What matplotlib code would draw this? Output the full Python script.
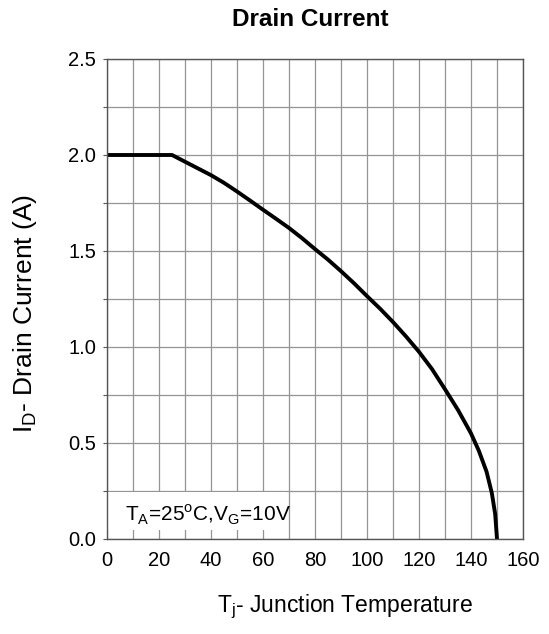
import matplotlib
matplotlib.use("Agg")
import matplotlib.pyplot as plt
from matplotlib.patches import Rectangle
import numpy as np

# Junction temperature (deg C) vs drain current (A)
temp_c = [0, 25, 30, 35, 40, 45, 50, 55, 60, 65, 70, 75, 80, 85, 90, 95, 100, 105,
          110, 115, 120, 125, 130, 135, 140, 143, 146, 148, 149.3, 150]
drain_a = [2.0, 2.0, 1.965, 1.93, 1.895, 1.855, 1.81, 1.763, 1.715, 1.668, 1.62, 1.567,
           1.51, 1.455, 1.395, 1.332, 1.265, 1.2, 1.13, 1.055, 0.975, 0.885, 0.78, 0.672,
           0.55, 0.46, 0.35, 0.24, 0.13, 0.0]

x_ticks = [0, 20, 40, 60, 80, 100, 120, 140, 160]
y_ticks = [0.0, 0.5, 1.0, 1.5, 2.0, 2.5]

plt.rcParams['font.family'] = ['Liberation Sans', 'DejaVu Sans']
plt.rcParams['mathtext.fontset'] = 'custom'
plt.rcParams['mathtext.rm'] = 'Liberation Sans'

W, H = 549, 634
fig = plt.figure(figsize=(W / 100, H / 100), dpi=100)
# plot box: x 107..523 px, y 59..539 px
ax = fig.add_axes([107 / W, 1 - 539 / H, 416 / W, 480 / H])

ax.plot(temp_c, drain_a, color='black', linewidth=2.8, solid_joinstyle='round', zorder=4)

ax.set_xlim(0, 160)
ax.set_ylim(0, 2.5)
ax.set_xticks(x_ticks)
ax.set_yticks(y_ticks)
ax.set_xticks(np.arange(0, 161, 10), minor=True)
ax.set_yticks(np.arange(0, 2.51, 0.25), minor=True)
ax.set_yticklabels([f"{v:.1f}" for v in y_ticks])
ax.grid(True, which='both', color='#949494', linewidth=0.9, zorder=1)
ax.set_axisbelow(True)
ax.tick_params(axis='y', which='both', direction='out', length=3, width=0.8,
               color='#555555', labelsize=14.5, pad=5)
ax.tick_params(axis='x', which='both', length=0, labelsize=14.5, pad=9)
for sp in ax.spines.values():
    sp.set_color('#555555')
    sp.set_linewidth(1.0)
    sp.set_zorder(5)

# white patch behind the condition note
ax.add_patch(Rectangle((0, 0.045), 69, 0.2, facecolor='white', edgecolor='none', zorder=2))
ax.text(7, 0.128, r'T$_\mathregular{A}$=25$^\mathregular{o}$C,V$_\mathregular{G}$=10V',
        fontsize=15, va='center', ha='left', zorder=5)

fig.text(310 / W, 1 - 20 / H, 'Drain Current', fontsize=17.5, fontweight='bold',
         ha='center', va='center')
fig.text(25 / W, 1 - 313 / H, r'I$_\mathregular{D}$- Drain Current (A)', fontsize=19,
         rotation=90, ha='center', va='center')
fig.text(345 / W, 1 - 607 / H, r'T$_\mathregular{j}$- Junction Temperature',
         fontsize=16.5, ha='center', va='center')

fig.savefig('out.png', dpi=100)
